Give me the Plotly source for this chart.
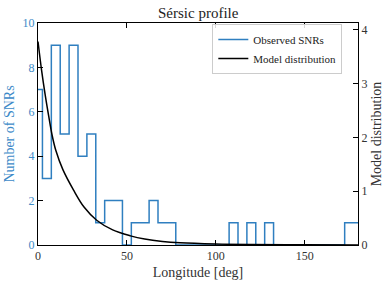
import plotly.graph_objects as go

# Histogram of observed SNRs (bin centres in deg, 5 deg bins)
bin_centers = [0, 5, 10, 15, 20, 25, 30, 35, 40, 45, 50, 55, 60, 65, 70, 75,
               80, 85, 90, 95, 100, 105, 110, 115, 120, 125, 130, 135, 140,
               145, 150, 155, 160, 165, 170, 175, 180]
counts = [7, 3, 9, 5, 9, 4, 5, 1, 2, 2, 0, 1, 1, 2, 1, 1,
          0, 0, 0, 0, 0, 0, 1, 0, 1, 0, 1, 0, 0,
          0, 0, 0, 0, 0, 0, 1, 1]
bin_width = 5

# Model distribution
model_lon = [0, 2, 4, 6, 8, 10, 14, 20, 26, 33, 42, 52, 60, 70, 80, 100, 120, 150, 180]
model_val = [3.78, 3.25, 2.8, 2.4, 2.03, 1.76, 1.40, 1.02, 0.70, 0.46, 0.28, 0.17,
             0.11, 0.065, 0.04, 0.018, 0.009, 0.004, 0.002]

x_ticks = [0, 50, 100, 150]
y_ticks = [0, 2, 4, 6, 8, 10]
y2_ticks = [0, 1, 2, 3, 4]

BLUE = "#2f7fc0"
BLUE_TEXT = "#3d8ac8"
FONT = "Liberation Serif"

edges = [c - bin_width / 2 for c in bin_centers] + [bin_centers[-1] + bin_width / 2]
step_x = edges
step_y = counts + [counts[-1]]

fig = go.Figure()
fig.add_trace(go.Scatter(
    x=step_x, y=step_y, mode="lines", line=dict(shape="hv", color=BLUE, width=1.5),
    name="Observed SNRs", yaxis="y"))
fig.add_trace(go.Scatter(
    x=model_lon, y=model_val, mode="lines", line=dict(shape="spline", color="black", width=1.5),
    name="Model distribution", yaxis="y2"))

axis_common = dict(showline=True, linecolor="black", linewidth=1, ticks="inside",
                   ticklen=5, tickcolor="black", showgrid=False, zeroline=False,
                   automargin=False)

fig.update_layout(
    width=391, height=285,
    margin=dict(l=38, r=33, t=23, b=40),
    paper_bgcolor="white", plot_bgcolor="white",
    font=dict(family=FONT, size=12, color="#222"),
    title=dict(text="Sérsic profile", x=0.507, xanchor="center", y=0.955, yanchor="middle",
               font=dict(size=15, color="#222")),
    showlegend=True,
    legend=dict(x=0.951, xanchor="right", y=0.995, yanchor="top",
                bgcolor="rgba(255,255,255,0.85)", bordercolor="#ccc", borderwidth=1,
                font=dict(size=11, color="#222"), itemwidth=30, tracegroupgap=0),
    xaxis=dict(range=[0, 180], tickvals=x_ticks, mirror="ticks",
               title=dict(text="Longitude [deg]", font=dict(size=14, color="#333"), standoff=4),
               tickfont=dict(size=12, color="#333"), **axis_common),
    yaxis=dict(range=[0, 10], tickvals=y_ticks,
               title=dict(text="Number of SNRs", font=dict(size=14, color=BLUE_TEXT), standoff=4),
               tickfont=dict(size=12, color=BLUE_TEXT), **axis_common),
    yaxis2=dict(range=[0, 4.125], tickvals=y2_ticks, overlaying="y", side="right",
                title=dict(text="Model distribution", font=dict(size=14, color="#333"), standoff=4),
                tickfont=dict(size=12, color="#333"), **axis_common),
)

fig.write_html("out.html", config={"displayModeBar": False},
               post_script="document.body.style.margin='0';")
